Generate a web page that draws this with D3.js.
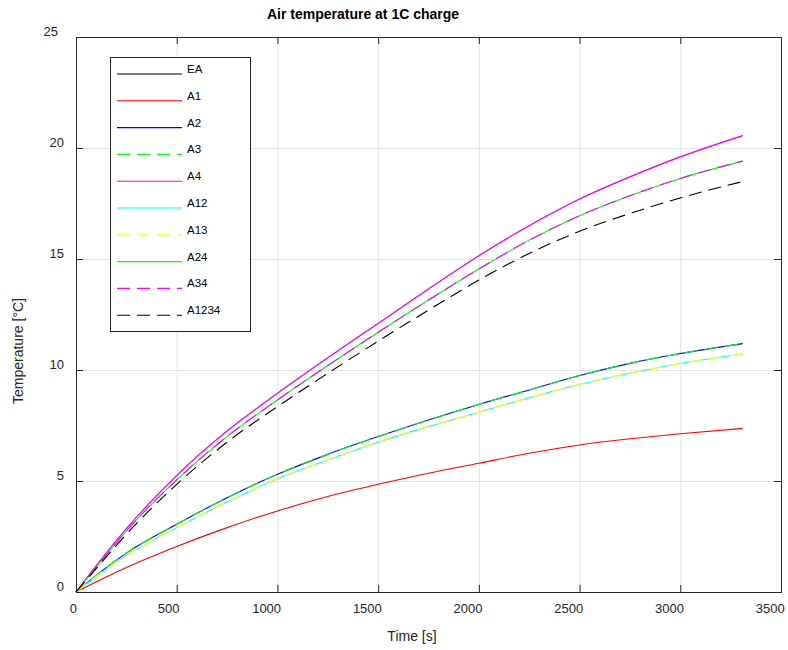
<!DOCTYPE html>
<html>
<head>
<meta charset="utf-8">
<script src="https://cdn.jsdelivr.net/npm/d3@7"></script>
<style>
  body { margin: 0; background: #fff; }
  text { font-family: "Liberation Sans", Arial, sans-serif; fill: #262626; }
</style>
</head>
<body>
<svg id="chart" width="788" height="650"></svg>
<script>
// time samples [s]
const time = [0, 100, 250, 500, 750, 1000, 1250, 1500, 1750, 2000, 2250, 2500, 2750, 3000, 3310]

// air temperature rise [°C] per configuration
const EA    = [0, 1.18, 2.85, 5.25, 7.25, 8.95, 10.55, 12.1, 13.65, 15.15, 16.5, 17.7, 18.7, 19.6, 20.56]
const A1    = [0, 0.45, 1.1, 2.05, 2.9, 3.65, 4.3, 4.85, 5.35, 5.8, 6.25, 6.62, 6.9, 7.13, 7.37]
const A2    = [0, 0.75, 1.75, 3.05, 4.25, 5.3, 6.2, 7.0, 7.75, 8.45, 9.1, 9.75, 10.3, 10.74, 11.19]
const A3    = [0, 0.75, 1.75, 3.05, 4.25, 5.3, 6.2, 7.0, 7.75, 8.45, 9.1, 9.75, 10.3, 10.74, 11.19]
const A4    = [0, 1.18, 2.85, 5.25, 7.25, 8.95, 10.55, 12.1, 13.65, 15.15, 16.5, 17.7, 18.7, 19.6, 20.56]
const A12   = [0, 0.7, 1.65, 2.9, 4.05, 5.1, 5.95, 6.75, 7.45, 8.1, 8.75, 9.35, 9.85, 10.29, 10.72]
const A13   = [0, 0.7, 1.65, 2.9, 4.05, 5.1, 5.95, 6.75, 7.45, 8.1, 8.75, 9.35, 9.85, 10.29, 10.72]
const A24   = [0, 1.1, 2.75, 5.05, 7.0, 8.65, 10.2, 11.7, 13.15, 14.55, 15.85, 16.95, 17.85, 18.63, 19.41]
const A34   = [0, 1.1, 2.75, 5.05, 7.0, 8.65, 10.2, 11.7, 13.15, 14.55, 15.85, 16.95, 17.85, 18.63, 19.41]
const A1234 = [0, 1.05, 2.6, 4.85, 6.75, 8.35, 9.85, 11.3, 12.7, 14.05, 15.25, 16.25, 17.05, 17.75, 18.49]

const xTicks = [0, 500, 1000, 1500, 2000, 2500, 3000, 3500]
const yTicks = [0, 5, 10, 15, 20, 25]

// series in plot order, with matlab-ish line specs
const series = [
    {name: "EA",    values: EA,    color: "#000000", dash: null, w: 0.5},
    {name: "A1",    values: A1,    color: "#ff0000", dash: null, w: 1.1},
    {name: "A2",    values: A2,    color: "#0000ff", dash: null, w: 1.1},
    {name: "A3",    values: A3,    color: "#00ff00", dash: "13,7", w: 1.1},
    {name: "A4",    values: A4,    color: "#ff00ff", dash: null, w: 1.2},
    {name: "A12",   values: A12,   color: "#00ffff", dash: null, w: 1.1},
    {name: "A13",   values: A13,   color: "#ffff00", dash: "13,7", w: 1.1},
    {name: "A24",   values: A24,   color: "#00ff00", dash: null, w: 1.1},
    {name: "A34",   values: A34,   color: "#ff00ff", dash: "13,7", w: 1.1},
    {name: "A1234", values: A1234, color: "#000000", dash: "13,7", w: 1.1}
]

const svg = d3.select("#chart")
const box = {left: 76, right: 781, top: 37, bottom: 592}

const x = d3.scaleLinear().domain([0, 3500]).range([box.left, box.right])
const y = d3.scaleLinear().domain([0, 25]).range([box.bottom, box.top])

// grid
const grid = svg.append("g").attr("stroke", "#e3e3e3").attr("stroke-width", 1)
grid.selectAll("line.gx").data(xTicks.slice(1, -1)).join("line")
    .attr("class", "gx")
    .attr("x1", d => x(d) + 0.5).attr("x2", d => x(d) + 0.5)
    .attr("y1", box.top).attr("y2", box.bottom)
grid.selectAll("line.gy").data(yTicks.slice(1, -1)).join("line")
    .attr("class", "gy")
    .attr("x1", box.left).attr("x2", box.right)
    .attr("y1", d => y(d) + 0.5).attr("y2", d => y(d) + 0.5)

// inward ticks on all four sides
const ticks = svg.append("g").attr("stroke", "#262626").attr("stroke-width", 1)
xTicks.forEach(t => {
    ticks.append("line").attr("x1", x(t) + 0.5).attr("x2", x(t) + 0.5).attr("y1", box.bottom).attr("y2", box.bottom - 7)
    ticks.append("line").attr("x1", x(t) + 0.5).attr("x2", x(t) + 0.5).attr("y1", box.top).attr("y2", box.top + 7)
})
yTicks.forEach(t => {
    ticks.append("line").attr("x1", box.left).attr("x2", box.left + 7).attr("y1", y(t) + 0.5).attr("y2", y(t) + 0.5)
    ticks.append("line").attr("x1", box.right).attr("x2", box.right - 7).attr("y1", y(t) + 0.5).attr("y2", y(t) + 0.5)
})

// curves
const line = d3.line()
    .x((d, i) => x(time[i]))
    .y(d => y(d))
    .curve(d3.curveMonotoneX)

svg.append("g").selectAll("path").data(series).join("path")
    .attr("d", d => line(d.values))
    .attr("fill", "none")
    .attr("stroke", d => d.color)
    .attr("stroke-width", d => d.w)
    .attr("stroke-dasharray", d => d.dash)

// axes box
svg.append("rect")
    .attr("x", box.left + 0.5).attr("y", box.top + 0.5)
    .attr("width", box.right - box.left).attr("height", box.bottom - box.top)
    .attr("fill", "none").attr("stroke", "#262626").attr("stroke-width", 1)

// tick labels
svg.append("g").selectAll("text").data(xTicks).join("text")
    .attr("x", d => x(d) - 2.7 * String(d).length)
    .attr("y", box.bottom + 16)
    .attr("dy", "0.35em")
    .attr("text-anchor", "middle")
    .attr("font-size", 13)
    .text(d => d)

svg.append("g").selectAll("text").data(yTicks).join("text")
    .attr("x", d => d === 25 ? 58 : 64)
    .attr("y", d => y(d) - 5.5)
    .attr("dy", "0.35em")
    .attr("text-anchor", "end")
    .attr("font-size", 13)
    .text(d => d)

// titles
svg.append("text")
    .attr("x", 363).attr("y", 19)
    .attr("text-anchor", "middle")
    .attr("font-size", 14).attr("font-weight", "bold")
    .style("fill", "#000")
    .text("Air temperature at 1C charge")

svg.append("text")
    .attr("x", 412).attr("y", 636)
    .attr("dy", "0.35em")
    .attr("text-anchor", "middle")
    .attr("font-size", 14)
    .text("Time [s]")

svg.append("text")
    .attr("transform", "translate(18,351) rotate(-90)")
    .attr("dy", "0.35em")
    .attr("text-anchor", "middle")
    .attr("font-size", 14)
    .text("Temperature [°C]")

// legend
const lg = svg.append("g")
lg.append("rect")
    .attr("x", 110.5).attr("y", 57.5).attr("width", 140).attr("height", 274)
    .attr("fill", "#fff").attr("stroke", "#262626").attr("stroke-width", 1)

const item = lg.selectAll("g.item").data(series).join("g")
    .attr("class", "item")
    .attr("transform", (d, i) => `translate(0,${74 + i * 26.8})`)
item.append("line")
    .attr("x1", 117).attr("x2", 182)
    .attr("stroke", d => d.color)
    .attr("stroke-width", 1.1)
    .attr("stroke-dasharray", d => d.dash)
item.append("text")
    .attr("x", 187).attr("y", -1)
    .attr("font-size", 11.5)
    .style("fill", "#000")
    .text(d => d.name)
</script>
</body>
</html>
